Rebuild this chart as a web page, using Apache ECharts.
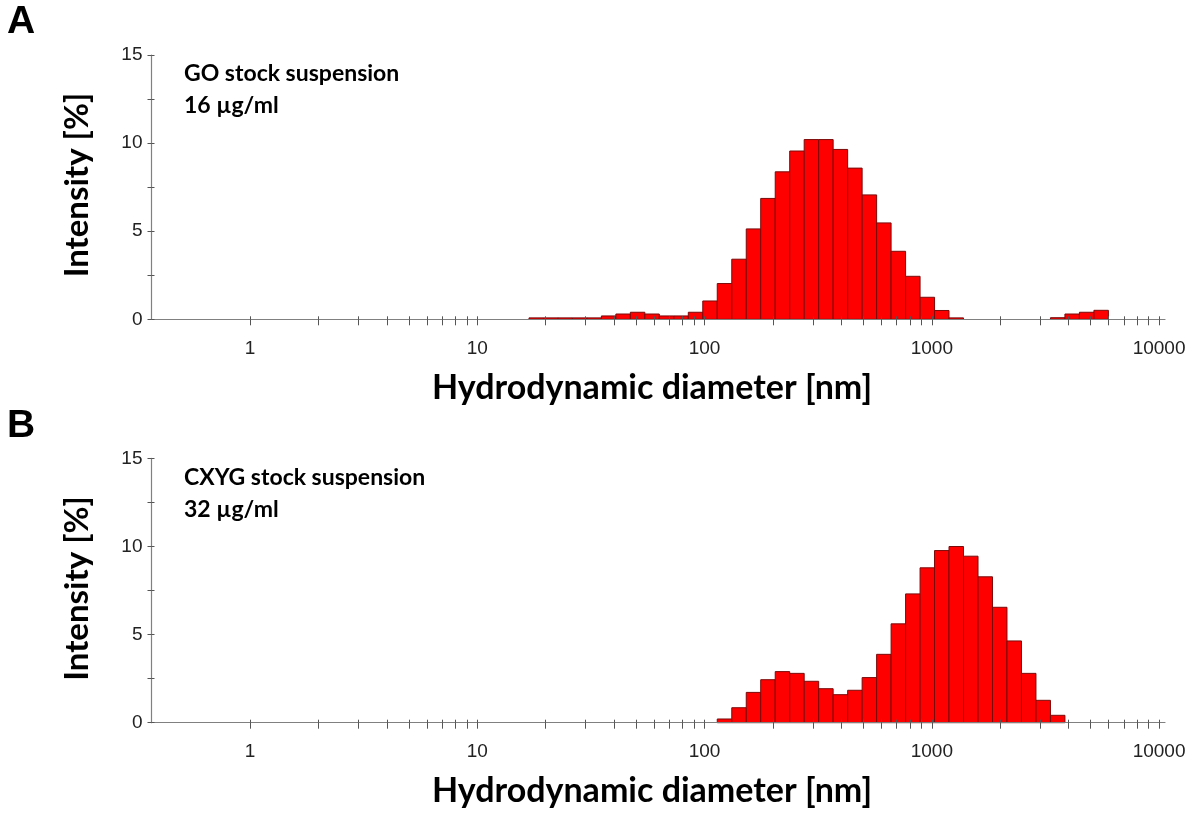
<!DOCTYPE html>
<html>
<head>
<meta charset="utf-8">
<script src="https://cdn.jsdelivr.net/npm/echarts@6/dist/echarts.min.js"></script>
<style>
html,body{margin:0;padding:0;background:#fff;}
#chart{width:1200px;height:818px;}
</style>
</head>
<body>
<div id="chart"></div>
<script>
// ---- data ----
const sizesA = [18.17, 21.04, 24.36, 28.21, 32.67, 37.84, 43.82, 50.75, 58.77, 68.06, 78.82, 91.28, 105.7, 122.4, 141.8, 164.2, 190.1, 220.2, 255.0, 295.3, 342.0, 396.1, 458.7, 531.2, 615.1, 712.4, 825.0, 955.4, 1106, 1281, 3580, 4145, 4801, 5560];
const valuesA = [0.08, 0.08, 0.08, 0.08, 0.08, 0.19, 0.30, 0.40, 0.30, 0.19, 0.19, 0.40, 1.04, 2.03, 3.41, 5.13, 6.86, 8.37, 9.55, 10.2, 10.2, 9.64, 8.58, 7.06, 5.47, 3.86, 2.44, 1.25, 0.50, 0.08, 0.09, 0.30, 0.40, 0.51];
const sizesB = [122.4, 141.8, 164.2, 190.1, 220.2, 255.0, 295.3, 342.0, 396.1, 458.7, 531.2, 615.1, 712.4, 825.0, 955.4, 1106, 1281, 1484, 1718, 1990, 2305, 2669, 3091, 3580];
const valuesB = [0.21, 0.85, 1.72, 2.44, 2.90, 2.80, 2.35, 1.93, 1.59, 1.84, 2.56, 3.88, 5.61, 7.31, 8.79, 9.77, 10.0, 9.45, 8.28, 6.55, 4.64, 2.80, 1.27, 0.42];
const xTickLabels = [1, 10, 100, 1000, 10000];
const labelsA = ['GO stock suspension', '16 µg/ml'];
const labelsB = ['CXYG stock suspension', '32 µg/ml'];
const xTitle = 'Hydrodynamic diameter [nm]';
const yTitle = 'Intensity [%]';

// ---- helpers ----
const binStep = Math.log10(sizesA[1] / sizesA[0]); // log-width of one size class
const half = binStep / 2;
const xMin = -0.4334, xMax = 4.026;
const minorTickVals = [];
for (let d = 0; d <= 4; d++) {
  for (let m = 1; m <= 9; m++) {
    const v = Math.log10(m * Math.pow(10, d));
    if (v <= 4.0001) minorTickVals.push(v);
  }
}
const labelVals = xTickLabels.map(v => Math.log10(v));

function toData(sizes, vals) { return sizes.map((s, i) => [Math.log10(s), vals[i]]); }

function renderBar(params, api) {
  const c = api.value(0), v = api.value(1);
  const p0 = api.coord([c - half, v]);
  const p1 = api.coord([c + half, 0]);
  return {
    type: 'rect',
    shape: { x: p0[0], y: p0[1], width: p1[0] - p0[0], height: p1[1] - p0[1] },
    style: { fill: '#ff0000', stroke: '#7a0a0a', lineWidth: 1 }
  };
}

const gridLeft = 151.5, gridWidth = 1013.5, gridH = 264.3;
const gridTops = [55, 458.4];

function mainX(gi) {
  return {
    type: 'value', gridIndex: gi, position: 'bottom', min: xMin, max: xMax, z: 5,
    axisLine: { show: true, onZero: false, lineStyle: { color: '#808080', width: 1.2 } },
    axisTick: { show: true, inside: false, length: 6, customValues: minorTickVals, lineStyle: { color: '#555', width: 1 } },
    axisLabel: { show: true, customValues: labelVals, margin: 20, color: '#222', fontFamily: 'Liberation Sans', fontSize: 19,
      formatter: v => String(Math.round(Math.pow(10, v))) },
    splitLine: { show: false }
  };
}
function innerX(gi) {
  return {
    type: 'value', gridIndex: gi, position: 'bottom', min: xMin, max: xMax, z: 5,
    axisLine: { show: false, onZero: false },
    axisTick: { show: true, inside: true, length: 3, customValues: minorTickVals, lineStyle: { color: '#555', width: 1 } },
    axisLabel: { show: false }, splitLine: { show: false }
  };
}
function mainY(gi) {
  return {
    type: 'value', gridIndex: gi, position: 'left', min: 0, max: 15, interval: 5, z: 5,
    axisLine: { show: true, onZero: false, lineStyle: { color: '#808080', width: 1.2 } },
    axisTick: { show: true, inside: false, length: 4, lineStyle: { color: '#555' } },
    minorTick: { show: true, splitNumber: 2, length: 4, lineStyle: { color: '#555' } },
    axisLabel: { margin: 9, color: '#222', fontFamily: 'Liberation Sans', fontSize: 19 },
    splitLine: { show: false }, minorSplitLine: { show: false }
  };
}
function innerY(gi) {
  return {
    type: 'value', gridIndex: gi, position: 'left', min: 0, max: 15, interval: 5, z: 5,
    axisLine: { show: false, onZero: false },
    axisTick: { show: true, inside: true, length: 3, lineStyle: { color: '#555' } },
    minorTick: { show: true, splitNumber: 2, length: 3, lineStyle: { color: '#555' } },
    axisLabel: { show: false }, splitLine: { show: false }, minorSplitLine: { show: false }
  };
}

const titleFont = 'Lato';
const graphics = [];
const panelLetters = ['A', 'B'];
const annots = [labelsA, labelsB];
gridTops.forEach((top, i) => {
  graphics.push({ type: 'text', left: 7, top: top - 52, style: { text: panelLetters[i], font: 'bold 39px "Liberation Sans"', fill: '#000' } });
  graphics.push({ type: 'text', x: 184, y: top + 19, style: { text: annots[i][0], font: 'bold 23px ' + titleFont, fill: '#000', textVerticalAlign: 'middle' } });
  graphics.push({ type: 'text', x: 184, y: top + 51, style: { text: annots[i][1], font: 'bold 23px ' + titleFont, fill: '#000', textVerticalAlign: 'middle' } });
  graphics.push({ type: 'text', x: 652, y: top + 333, style: { text: xTitle, font: 'bold 34px ' + titleFont, fill: '#000', textAlign: 'center', textVerticalAlign: 'middle' } });
  graphics.push({ type: 'text', x: 77, y: top + 130, rotation: Math.PI / 2, style: { text: yTitle, font: 'bold 33px ' + titleFont, fill: '#000', textAlign: 'center', textVerticalAlign: 'middle' } });
});

const chart = echarts.init(document.getElementById('chart'), null, { renderer: 'canvas' });
chart.setOption({
  animation: false,
  backgroundColor: '#fff',
  grid: gridTops.map(t => ({ left: gridLeft, top: t, width: gridWidth, height: gridH })),
  xAxis: [mainX(0), mainX(1), innerX(0), innerX(1)],
  yAxis: [mainY(0), mainY(1), innerY(0), innerY(1)],
  series: [
    { type: 'custom', xAxisIndex: 0, yAxisIndex: 0, renderItem: renderBar, data: toData(sizesA, valuesA), z: 2 },
    { type: 'custom', xAxisIndex: 1, yAxisIndex: 1, renderItem: renderBar, data: toData(sizesB, valuesB), z: 2 }
  ],
  graphic: graphics
});
</script>
</body>
</html>
